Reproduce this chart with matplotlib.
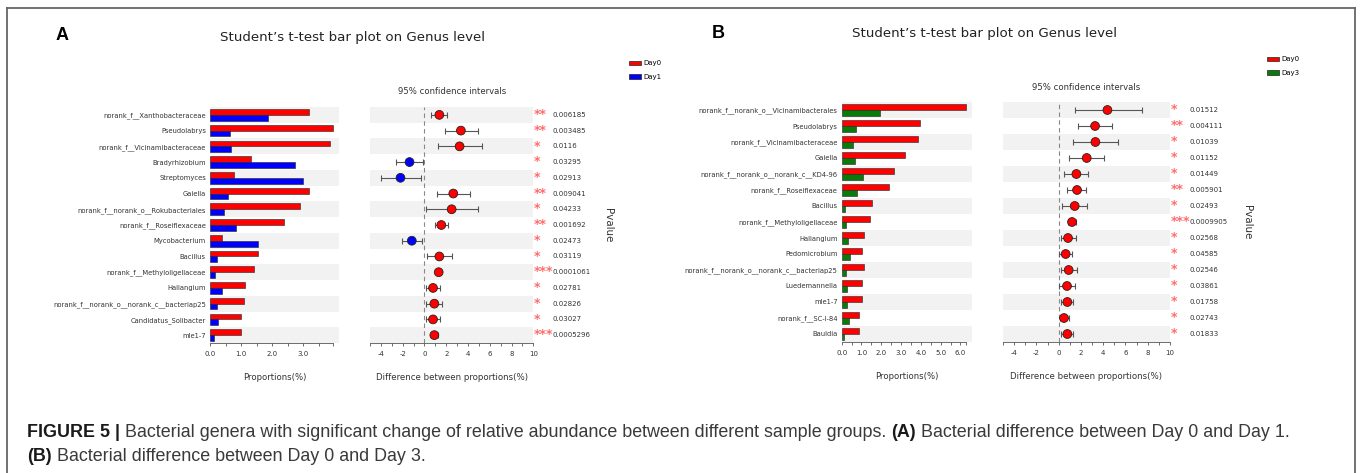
import matplotlib
matplotlib.use('Agg')
import matplotlib.pyplot as plt
from matplotlib.patches import Patch
from matplotlib.lines import Line2D
from matplotlib.transforms import blended_transform_factory
import numpy as np

W, H = 1360, 473

# panel A: Day0 vs Day1
genus_a = ['norank_f__Xanthobacteraceae', 'Pseudolabrys', 'norank_f__Vicinamibacteraceae',
           'Bradyrhizobium', 'Streptomyces', 'Gaiella', 'norank_f__norank_o__Rokubacteriales',
           'norank_f__Roseiflexaceae', 'Mycobacterium', 'Bacillus', 'norank_f__Methyloligellaceae',
           'Haliangium', 'norank_f__norank_o__norank_c__bacteriap25', 'Candidatus_Solibacter', 'mle1-7']
day0_a = [3.19, 3.97, 3.86, 1.31, 0.78, 3.17, 2.89, 2.37, 0.38, 1.55, 1.41, 1.14, 1.09, 1.00, 1.01]
day1_a = [1.88, 0.64, 0.66, 2.74, 3.00, 0.58, 0.44, 0.84, 1.55, 0.22, 0.16, 0.40, 0.22, 0.27, 0.14]
diff_a = [1.37, 3.35, 3.23, -1.37, -2.20, 2.65, 2.50, 1.55, -1.16, 1.37, 1.31, 0.79, 0.91, 0.79, 0.91]
lo_a = [0.64, 1.89, 1.22, -2.65, -4.02, 1.13, 0.15, 0.98, -2.07, 0.24, 1.07, 0.12, 0.15, 0.12, 0.61]
hi_a = [2.07, 4.88, 5.27, -0.15, -0.34, 4.18, 4.88, 2.13, -0.18, 2.50, 1.55, 1.40, 1.65, 1.40, 1.22]
p_a = ['0.006185', '0.003485', '0.0116', '0.03295', '0.02913', '0.009041', '0.04233', '0.001692',
       '0.02473', '0.03119', '0.0001061', '0.02781', '0.02826', '0.03027', '0.0005296']

# panel B: Day0 vs Day3
genus_b = ['norank_f__norank_o__Vicinamibacterales', 'Pseudolabrys', 'norank_f__Vicinamibacteraceae',
           'Gaiella', 'norank_f__norank_o__norank_c__KD4-96', 'norank_f__Roseiflexaceae', 'Bacillus',
           'norank_f__Methyloligellaceae', 'Haliangium', 'Pedomicrobium',
           'norank_f__norank_o__norank_c__bacteriap25', 'Luedemannella', 'mle1-7', 'norank_f__SC-I-84', 'Bauldia']
day0_b = [6.30, 3.95, 3.85, 3.18, 2.62, 2.37, 1.55, 1.43, 1.13, 1.03, 1.11, 1.03, 1.01, 0.87, 0.87]
day3_b = [1.93, 0.72, 0.59, 0.69, 1.06, 0.76, 0.15, 0.22, 0.30, 0.42, 0.20, 0.29, 0.25, 0.37, 0.13]
diff_b = [4.38, 3.27, 3.30, 2.52, 1.59, 1.65, 1.44, 1.20, 0.84, 0.63, 0.90, 0.75, 0.78, 0.48, 0.78]
lo_b = [1.44, 1.74, 1.29, 0.93, 0.51, 0.78, 0.30, 0.81, 0.18, 0.00, 0.18, 0.03, 0.24, 0.09, 0.21]
hi_b = [7.45, 4.80, 5.32, 4.08, 2.64, 2.46, 2.55, 1.59, 1.53, 1.23, 1.65, 1.44, 1.29, 0.93, 1.32]
p_b = ['0.01512', '0.004111', '0.01039', '0.01152', '0.01449', '0.005901', '0.02493', '0.0009905',
       '0.02568', '0.04585', '0.02546', '0.03861', '0.01758', '0.02743', '0.01833']

RED = '#ff0000'
BLUE = '#0000ff'
GREEN = '#0a7a0a'
STRIPE = '#f2f2f2'
TXT = '#333333'

fig = plt.figure(figsize=(W / 100, H / 100), dpi=100)
plt.rcParams['font.family'] = 'DejaVu Sans'


def box(x0, x1, y0, y1):
    # pixel box -> figure fraction rect
    return [x0 / W, 1 - y1 / H, (x1 - x0) / W, (y1 - y0) / H]


def stars(p):
    p = float(p)
    if p < 0.001:
        return '***'
    if p < 0.01:
        return '**'
    return '*'


def panel(bar_px, ci_px, genus, g0, g1, diff, lo, hi, pv, col1, xmax, lab1, leg_px, letter, letter_px,
          title_px):
    n = len(genus)
    y = np.arange(n)

    # bar part
    ax = fig.add_axes(box(*bar_px))
    for i in range(0, n, 2):
        ax.axhspan(i - 0.5, i + 0.5, color=STRIPE, lw=0, zorder=0)
    ax.barh(y - 0.185, g0, height=0.37, color=RED, edgecolor='#222222', lw=0.4, zorder=2)
    ax.barh(y + 0.185, g1, height=0.37, color=col1, edgecolor='#222222', lw=0.4, zorder=2)
    ax.set_ylim(n - 0.5, -0.5)
    ax.set_xlim(0, xmax * 1.045)
    ax.set_yticks(y, genus, fontsize=4.85, color=TXT)
    ax.tick_params(axis='y', length=0, pad=3)
    major = np.arange(0, int(xmax) + 1)
    ax.set_xticks(major, ['%.1f' % v for v in major], fontsize=5, color=TXT)
    ax.set_xticks(list(np.arange(0.5, xmax, 1.0)) + [xmax], minor=True)
    ax.tick_params(axis='x', which='both', length=2.5, width=0.6, color='#555555', pad=3)
    for s in ['top', 'right', 'left']:
        ax.spines[s].set_visible(False)
    ax.spines['bottom'].set_bounds(0, xmax)
    ax.spines['bottom'].set_linewidth(0.6)
    ax.spines['bottom'].set_color('#555555')
    ax.set_xlabel('Proportions(%)', fontsize=6.1, color=TXT, labelpad=12)

    # confidence interval part
    cx = fig.add_axes(box(*ci_px))
    for i in range(0, n, 2):
        cx.axhspan(i - 0.5, i + 0.5, color=STRIPE, lw=0, zorder=0)
    cx.axvline(0, color='#888888', ls=(0, (4, 3)), lw=0.8, zorder=1)
    d = np.array(diff)
    cx.errorbar(d, y, xerr=[d - np.array(lo), np.array(hi) - d], fmt='none', ecolor='#555555',
                elinewidth=0.8, capsize=2.3, capthick=0.8, zorder=2)
    cx.scatter(d, y, s=40, c=np.where(d > 0, RED, col1), edgecolors='#222222', linewidths=0.6, zorder=3)
    cx.set_ylim(n - 0.5, -0.5)
    cx.set_xlim(-5, 10)
    cx.set_yticks([])
    cx.set_xticks(np.arange(-4, 11, 2), [str(v) for v in range(-4, 11, 2)], fontsize=5, color=TXT)
    cx.set_xticks(np.arange(-5, 10, 2), minor=True)
    cx.tick_params(axis='x', which='both', length=2.5, width=0.6, color='#555555', pad=3)
    for s in ['top', 'right', 'left']:
        cx.spines[s].set_visible(False)
    cx.spines['bottom'].set_linewidth(0.6)
    cx.spines['bottom'].set_color('#555555')
    cx.set_xlabel('Difference between proportions(%)', fontsize=6.2, color=TXT, labelpad=12)

    tr = blended_transform_factory(cx.transAxes, cx.transData)
    for i, p in enumerate(pv):
        cx.text(1.005, i - 0.02, stars(p), transform=tr, fontsize=9, color='#ff6b6b',
                ha='left', va='center', fontweight='bold')
        cx.text(1.115, i, p, transform=tr, fontsize=5, color=TXT, ha='left', va='center')
    cx.text(1.46, 0.5, 'Pvalue', transform=cx.transAxes, fontsize=7.4, color=TXT, rotation=270,
            ha='center', va='center')
    cx.set_title('95% confidence intervals', fontsize=6.1, color=TXT, pad=9)

    handles = [Patch(facecolor=RED, edgecolor='#222222', lw=0.5),
               Patch(facecolor=col1, edgecolor='#222222', lw=0.5)]
    fig.legend(handles, ['Day0', lab1], loc='upper left',
               bbox_to_anchor=(leg_px[0] / W, 1 - leg_px[1] / H), frameon=False, fontsize=5,
               borderpad=0, handlelength=1.6, handleheight=0.7, handletextpad=0.4, labelspacing=1.05)

    fig.text(letter_px[0] / W, 1 - letter_px[1] / H, letter, fontsize=13, fontweight='bold',
             ha='center', va='center', family='Liberation Sans')
    fig.text(title_px[0] / W, 1 - title_px[1] / H, 'Student\u2019s t-test bar plot on Genus level',
             fontsize=9.6, color='#222222', ha='center', va='center')


panel((210, 339, 107, 343), (370, 533.3, 107, 343), genus_a, day0_a, day1_a, diff_a, lo_a, hi_a, p_a,
      BLUE, 3.97, 'Day1', (626, 57), 'A', (62, 35), (352, 38))
panel((841.7, 972, 102, 342), (1003, 1170, 102, 342), genus_b, day0_b, day3_b, diff_b, lo_b, hi_b, p_b,
      GREEN, 6.3, 'Day3', (1264, 53), 'B', (718, 33), (985, 33))

# frame around the figure
for xs, ys in [((7, 7), (8, H)), ((7, 1355), (8, 8)), ((1355, 1355), (8, H))]:
    fig.add_artist(Line2D([x / W for x in xs], [1 - v / H for v in ys], color='#666666', lw=1.3))

# caption with bold runs
fig.canvas.draw()
rend = fig.canvas.get_renderer()
cap_lines = [
    [('FIGURE 5 |', 'bold'),
     (' Bacterial genera with significant change of relative abundance between different sample groups. ', 'normal'),
     ('(A)', 'bold'), (' Bacterial difference between Day 0 and Day 1.', 'normal')],
    [('(B)', 'bold'), (' Bacterial difference between Day 0 and Day 3.', 'normal')],
]
for line, ypx in zip(cap_lines, [432, 456]):
    x = 27
    for s, wgt in line:
        t = fig.text(x / W, 1 - ypx / H, s, fontsize=12.9, fontweight=wgt, family='Liberation Sans',
                     color='#1a1a1a' if wgt == 'bold' else '#3a3a3a', ha='left', va='center')
        x = t.get_window_extent(rend).x1

fig.savefig('out.png', dpi=100)
